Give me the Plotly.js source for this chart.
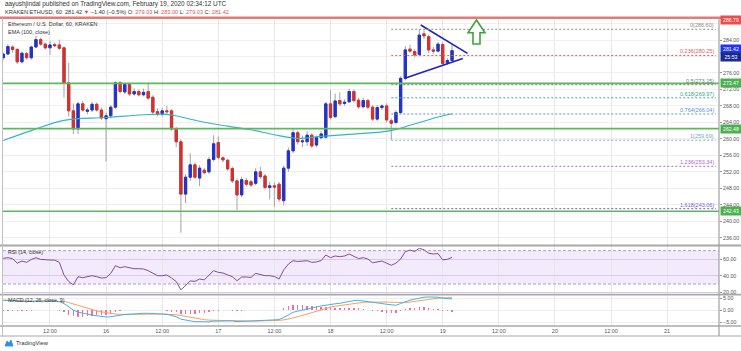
<!DOCTYPE html>
<html><head><meta charset="utf-8">
<script src="https://cdn.plot.ly/plotly-3.0.1.min.js"></script>
<style>html,body{margin:0;padding:0;background:#fff;}#chart{width:741px;height:351px;}</style>
</head><body><div id="chart"></div>
<script>
// ---------- DATA (hourly candles, KRAKEN:ETHUSD, from 2020-02-15 02:00 UTC) ----------
const opens  = [279.7,280.6,282.3,281.7,278.7,280.7,279.7,282.3,284.1,283.0,
                282.1,282.9,282.8,282.1,273.6,266.8,262.4,268.5,266.7,267.0,
                268.4,267.0,264.9,265.6,267.7,273.6,271.4,273.2,270.9,271.5,
                270.7,271.5,270.1,266.6,266.0,266.8,266.8,262.4,259.3,246.6,
                250.7,253.7,250.5,252.4,252.0,255.0,259.1,255.4,254.8,252.8,
                249.8,246.4,249.9,249.6,249.2,252.0,251.0,248.2,248.6,249.0,
                245.0,252.9,257.1,261.5,259.3,259.3,260.9,258.5,260.3,260.4,
                268.5,265.4,269.3,268.6,269.0,271.5,269.4,267.8,269.3,267.7,
                264.8,267.6,268.0,264.4,264.0,266.4,274.7,281.8,281.2,280.5,
                285.5,284.8,281.6,281.3,282.9,278.5,279.03];
const highs  = [280.9,283.0,282.7,282.1,281.2,281.1,282.6,285.0,284.6,283.4,
                283.8,283.4,284.1,282.4,278.5,268.6,269.0,269.2,267.6,268.9,
                268.8,267.6,266.4,268.2,274.0,274.0,273.6,273.6,272.3,272.0,
                272.2,273.6,270.6,267.4,267.5,268.0,267.2,262.9,259.9,251.4,
                256.5,254.3,253.6,253.0,255.6,260.9,260.6,255.8,255.2,253.3,
                250.4,250.8,250.5,250.1,252.9,253.2,251.5,249.6,249.4,249.5,
                253.5,257.9,262.6,262.1,260.8,261.8,261.4,260.8,261.9,269.0,
                271.9,271.0,271.3,269.6,272.2,272.0,270.0,270.0,269.7,268.2,
                268.2,268.4,268.6,265.0,267.0,275.2,282.5,282.9,281.8,286.6,
                286.4,285.3,282.3,283.5,283.4,279.6,283.00];
const lows   = [279.2,280.3,280.9,278.2,278.3,279.2,279.2,282.0,282.6,281.7,
                280.4,282.3,281.6,270.0,265.4,261.2,261.2,266.6,266.0,266.5,
                266.6,264.6,254.5,265.0,267.3,271.0,270.8,270.4,270.5,270.3,
                270.3,269.5,266.0,265.5,265.4,266.1,262.0,258.0,237.2,244.4,
                249.8,250.3,248.5,251.4,251.5,254.5,255.0,254.3,252.3,249.3,
                242.7,245.8,248.5,248.3,248.7,250.3,247.7,245.3,243.5,244.7,
                243.9,252.0,256.5,258.6,258.0,258.3,257.8,258.0,259.8,260.1,
                264.8,265.0,268.0,268.1,268.8,268.8,267.3,267.4,267.2,264.3,
                264.4,267.0,264.0,259.7,263.5,266.0,274.2,280.9,279.8,280.0,
                284.2,280.8,280.7,281.0,277.8,278.0,279.03];
const closes = [280.6,282.4,281.7,278.7,280.8,279.7,282.3,284.1,283.0,282.1,
                282.8,282.6,282.0,273.6,266.8,262.4,268.5,267.0,267.0,268.4,
                267.0,265.1,265.6,267.7,273.6,271.5,273.2,270.9,271.5,270.7,
                271.3,269.9,266.5,266.0,266.8,266.6,262.4,259.3,246.6,250.7,
                253.7,250.7,252.9,251.8,255.0,258.8,255.5,254.9,252.7,249.8,
                246.4,250.1,249.0,248.8,252.0,250.8,248.2,248.6,248.3,245.4,
                252.9,257.1,261.5,259.3,259.5,260.9,258.3,260.3,261.2,268.5,
                265.2,269.2,268.5,268.9,271.5,269.3,267.8,269.3,267.7,264.8,
                267.6,268.0,264.6,263.8,266.4,274.7,281.6,281.3,280.4,285.2,
                285.0,281.6,281.3,283.0,278.3,279.0,281.42];

// EMA(100, close) read at selected hours (hours after 2020-02-15 00:00)
const emaHours  = [2, 8, 15, 24, 33, 36, 38, 44, 50, 55, 60, 65, 70, 76, 83, 86, 89, 92, 95, 98];
const emaValues = [259.6, 262.0, 264.5, 265.2, 265.9, 266.0, 265.8, 264.3, 263.1, 262.2,
                   261.0, 260.1, 260.6, 261.1, 261.7, 262.3, 263.3, 264.3, 265.3, 266.1];

const rsi = [60.8,61.6,60.4,55.0,57.6,56.0,59.5,61.6,59.5,58.8,
             58.8,58.6,56.0,40.8,33.0,29.0,38.8,37.6,38.4,40.0,
             38.8,37.2,37.6,42.8,52.0,49.6,50.8,49.2,48.4,48.4,
             48.0,46.0,42.8,40.0,40.0,40.8,37.2,33.0,23.0,28.9,
             33.7,33.2,36.0,35.0,40.0,46.0,44.0,43.2,41.0,38.8,
             34.0,38.4,38.4,38.0,42.8,41.6,40.0,40.0,39.0,36.0,
             47.0,54.0,58.0,57.0,57.6,58.0,56.0,56.5,58.0,64.8,
             61.6,63.6,62.8,63.6,66.0,63.0,60.5,61.6,60.0,55.5,
             57.0,57.6,55.0,52.5,55.0,60.0,68.8,70.8,69.0,72.8,
             71.0,67.0,66.0,66.5,59.0,59.6,62.0];

const macd = [4.1,4.1,4.0,3.8,3.7,3.6,3.6,3.8,3.9,3.9,
              3.9,3.8,3.6,2.8,1.5,0.1,-0.7,-1.2,-1.6,-1.9,
              -2.2,-2.5,-2.7,-2.6,-2.2,-2.0,-1.7,-1.6,-1.4,-1.3,
              -1.2,-1.2,-1.4,-1.5,-1.5,-1.6,-2.1,-2.6,-3.6,-4.1,
              -4.3,-4.6,-4.7,-4.8,-4.7,-4.4,-4.3,-4.2,-4.2,-4.3,
              -4.6,-4.5,-4.4,-4.4,-4.2,-4.1,-4.1,-4.1,-4.0,-3.8,
              -2.9,-1.8,-0.8,-0.3,0.2,0.6,1.0,1.4,1.8,2.2,
              2.5,2.7,2.9,3.3,3.6,4.0,4.1,3.9,3.7,3.4,
              3.1,2.8,2.5,2.2,2.1,2.8,3.6,4.2,4.6,5.1,
              5.4,5.5,5.5,5.4,5.0,4.8,4.7];
const signal = [4.2,4.2,4.1,4.0,3.9,3.9,3.8,3.8,3.8,3.8,
                3.8,3.8,3.8,3.6,3.2,2.6,2.0,1.4,0.8,0.3,
                -0.2,-0.6,-1.0,-1.3,-1.5,-1.6,-1.7,-1.7,-1.6,-1.6,
                -1.5,-1.5,-1.5,-1.5,-1.5,-1.5,-1.6,-1.8,-2.1,-2.5,
                -2.9,-3.2,-3.5,-3.8,-4.0,-4.1,-4.2,-4.2,-4.2,-4.2,
                -4.3,-4.4,-4.4,-4.4,-4.4,-4.3,-4.3,-4.2,-4.2,-4.1,
                -3.9,-3.6,-3.1,-2.6,-2.0,-1.4,-0.9,-0.3,0.3,0.9,
                1.3,1.7,2.0,2.4,2.7,3.0,3.2,3.3,3.4,3.5,
                3.5,3.4,3.4,3.3,3.2,3.1,3.2,3.4,3.6,3.9,
                4.2,4.5,4.8,5.0,5.1,5.2,5.2];
const histogram = [-0.1,-0.1,-0.1,-0.2,-0.2,-0.3,-0.2,0.0,0.1,0.1,
                   0.1,0.0,-0.2,-0.8,-1.7,-2.5,-2.7,-2.6,-2.4,-2.2,
                   -2.0,-1.9,-1.7,-1.3,-0.7,-0.4,0.0,0.1,0.2,0.3,
                   0.3,0.3,0.1,0.0,0.0,-0.1,-0.5,-0.8,-1.5,-1.6,
                   -1.4,-1.4,-1.2,-1.0,-0.7,-0.3,-0.1,0.0,0.0,-0.1,
                   -0.3,-0.1,0.0,0.0,0.2,0.2,0.2,0.1,0.2,0.3,
                   1.0,1.8,2.3,2.3,2.2,2.0,1.9,1.7,1.5,1.3,
                   1.2,1.0,0.9,0.9,0.9,1.0,0.9,0.6,0.3,-0.1,
                   -0.4,-0.6,-0.9,-1.1,-1.1,-0.3,0.4,0.8,1.0,1.2,
                   1.2,1.0,0.7,0.4,-0.1,-0.4,-0.5];

// Fibonacci levels
const fibLabels = ["0(286.60)","0.236(280.25)","0.5(273.15)","0.618(269.97)","0.764(266.04)","1(259.69)","1.236(253.34)","1.618(243.06)"];
const fibPrices = [286.60, 280.25, 273.15, 269.97, 266.04, 259.69, 253.34, 243.06];
const fibStart = "2020-02-18 13:00";
const fibEnd   = "2020-02-21 10:28";

// Horizontal support/resistance lines
const hLevels = [273.47, 262.48, 242.43];
const topLevel = 286.79;
const lastPrice = 281.42;
const countdown = "25:53";

// Triangle trendlines
const triUpperX = ["2020-02-18 19:18", "2020-02-19 05:18"];
const triUpperY = [287.64, 280.77];
const triLowerX = ["2020-02-18 15:54", "2020-02-19 04:18"];
const triLowerY = [274.7, 279.5];

// Axis ticks (280 is hidden behind the price badges in the reference)
const xTickVals = ["2020-02-15 12:00","2020-02-16","2020-02-16 12:00","2020-02-17","2020-02-17 12:00","2020-02-18",
                   "2020-02-18 12:00","2020-02-19","2020-02-19 12:00","2020-02-20","2020-02-20 12:00","2020-02-21"];
const xTickText = ["12:00","16","12:00","17","12:00","18","12:00","19","12:00","20","12:00","21"];
const priceTicks = [236,240,244,248,252,256,260,264,268,272,276,284];
const hiddenGrid = [280, 288];
const rsiTicks = [20,40,60];
const macdTicks = [-5,0,5];

// ---------- helpers ----------
function hourStr(h){
  const d = new Date(Date.UTC(2020,1,15,0,0));
  d.setUTCHours(h);
  return d.toISOString().slice(0,16).replace('T',' ');
}
const firstHour = 2;
const times = opens.map((_, i) => hourStr(firstHour + i));
const emaTimes = emaHours.map(hourStr);
const bodyHi = opens.map((o,i) => Math.max(o, closes[i]));
const bodyLo = opens.map((o,i) => Math.min(o, closes[i]));

// layout geometry
const W=741, H=351, ML=3, MR=22, MT=19, MB=25;
const PW = W-ML-MR, PH = H-MT-MB;
const px = p => (p-ML)/PW;
const py = p => 1-(p-MT)/PH;

const UP = '#2231c8', DOWN = '#d3302f', WICK = '#a3a3a3';
const FONT = 'Liberation Sans, Arial, sans-serif';

const traces = [
  {type:'candlestick', x:times, open:opens, high:highs, low:lows, close:closes,
   increasing:{line:{color:WICK,width:1}, fillcolor:'rgba(0,0,0,0)'},
   decreasing:{line:{color:WICK,width:1}, fillcolor:'rgba(0,0,0,0)'},
   hoverinfo:'skip', xaxis:'x', yaxis:'y'},
  {type:'candlestick', x:times, open:opens, high:bodyHi, low:bodyLo, close:closes,
   increasing:{line:{color:UP,width:1}, fillcolor:UP},
   decreasing:{line:{color:DOWN,width:1}, fillcolor:DOWN},
   hoverinfo:'skip', xaxis:'x', yaxis:'y'},
  {type:'scatter', mode:'lines', x:emaTimes, y:emaValues, line:{color:'#35b3c8', width:1.1, shape:'spline'},
   hoverinfo:'skip', xaxis:'x', yaxis:'y'},
  {type:'scatter', mode:'lines', x:triUpperX, y:triUpperY, line:{color:'#1e22b8', width:1.6}, hoverinfo:'skip', xaxis:'x', yaxis:'y'},
  {type:'scatter', mode:'lines', x:triLowerX, y:triLowerY, line:{color:'#1e22b8', width:1.6}, hoverinfo:'skip', xaxis:'x', yaxis:'y'},
  {type:'scatter', mode:'lines', x:times, y:rsi, line:{color:'#7d4f9c', width:1}, hoverinfo:'skip', xaxis:'x', yaxis:'y2'},
  {type:'bar', x:times, y:histogram, width:1100000, marker:{color:'#ee6fa5'}, hoverinfo:'skip', xaxis:'x', yaxis:'y3'},
  {type:'scatter', mode:'lines', x:times, y:signal, line:{color:'#f5a15c', width:1}, hoverinfo:'skip', xaxis:'x', yaxis:'y3'},
  {type:'scatter', mode:'lines', x:times, y:macd, line:{color:'#4aaee6', width:1}, hoverinfo:'skip', xaxis:'x', yaxis:'y3'}
];

const shapes = [];
const annotations = [];
// grid lines for hidden price labels
hiddenGrid.forEach(v => shapes.push({type:'line', xref:'x domain', yref:'y', x0:0, x1:1, y0:v, y1:v, line:{color:'#efefef', width:1}, layer:'below'}));
// RSI band
shapes.push({type:'rect', xref:'x domain', yref:'y2', x0:0, x1:1, y0:30, y1:70, fillcolor:'rgba(156,90,220,0.12)', line:{width:0}, layer:'below'});
[70,30].forEach(v => shapes.push({type:'line', xref:'x domain', yref:'y2', x0:0, x1:1, y0:v, y1:v, line:{color:'rgba(150,110,200,0.7)', width:1, dash:'3px,2px'}}));
// fib lines
const fibColors = ['#8a8a8a','#e06060','#777777','#38a88e','#5a8fd6','#7fa6c6','#b06bd0','#7a5cc8'];
fibPrices.forEach((p,i) => {
  shapes.push({type:'line', xref:'x', yref:'y', x0:fibStart, x1:fibEnd, y0:p, y1:p, line:{color:fibColors[i], width:1, dash:'2px,2px'}});
  annotations.push({xref:'x', yref:'y', x:fibEnd, y:p, xanchor:'right', yanchor:'bottom', yshift:-1, text:fibLabels[i], showarrow:false,
    font:{family:FONT, size:5.5, color:fibColors[i]}});
});
// green horizontal lines
hLevels.forEach(v => shapes.push({type:'line', xref:'paper', yref:'y', x0:0, x1:1, y0:v, y1:v, line:{color:'#5cb85c', width:1.6}}));
// red top line
shapes.push({type:'line', xref:'paper', yref:'paper', x0:px(0), x1:px(741), y0:py(17.8), y1:py(17.8), line:{color:'#e47a7a', width:2.4}});
// pane separators and borders
shapes.push({type:'line', xref:'paper', yref:'paper', x0:px(0), x1:px(741), y0:py(245.5), y1:py(245.5), line:{color:'#a8a8a8', width:1.8}});
shapes.push({type:'line', xref:'paper', yref:'paper', x0:px(0), x1:px(741), y0:py(294.7), y1:py(294.7), line:{color:'#a8a8a8', width:1.8}});
shapes.push({type:'line', xref:'paper', yref:'paper', x0:px(0), x1:px(741), y0:py(326), y1:py(326), line:{color:'#a8a8a8', width:1.5}});
shapes.push({type:'line', xref:'paper', yref:'paper', x0:px(0), x1:px(741), y0:py(336), y1:py(336), line:{color:'#a8a8a8', width:1.2}});
shapes.push({type:'line', xref:'paper', yref:'paper', x0:px(719), x1:px(719), y0:py(336), y1:py(18), line:{color:'#a0a0a0', width:1.2}});
shapes.push({type:'line', xref:'paper', yref:'paper', x0:px(2.5), x1:px(2.5), y0:py(336), y1:py(18), line:{color:'#c0c0c0', width:1}});
// green up arrow (outline)
const arrowPts = [[476.5,20],[485,32.7],[480,32.7],[480,44],[473,44],[473,32.7],[468,32.7]];
shapes.push({type:'path', xref:'paper', yref:'paper',
  path:'M'+arrowPts.map(p=>px(p[0]).toFixed(5)+','+py(p[1]).toFixed(5)).join(' L')+' Z',
  fillcolor:'#ffffff', line:{color:'#3aa53a', width:1.6}});
// tradingview logo mark
shapes.push({type:'path', xref:'paper', yref:'paper',
  path:'M'+[[5,346],[7,341],[9,343],[11,340],[13,346]].map(p=>px(p[0]).toFixed(5)+','+py(p[1]).toFixed(5)).join(' L')+' Z',
  fillcolor:'#2f8fe0', line:{color:'#2f8fe0', width:0.8}});

function txt(x, y, text, size, color, extra){
  annotations.push(Object.assign({xref:'paper', yref:'paper', x:px(x), y:py(y), xanchor:'left', yanchor:'middle',
    text:text, showarrow:false, font:{family:FONT, size:size, color:color||'#333'}}, extra||{}));
}
txt(3, 4.5, 'aayushjindal published on TradingView.com, February 19, 2020 02:34:12 UTC', 6.4, '#333');
txt(3, 12, 'KRAKEN:ETHUSD, 60&nbsp; 281.42 <span style="color:#e03b3b">▼</span> −1.40 (−0.5%) O: <span style="color:#e05555">279.03</span> H: <span style="color:#e05555">283.00</span> L: <span style="color:#e05555">279.03</span> C: <span style="color:#e05555">281.42</span>', 5.6, '#333');
txt(6, 23.8, 'Ethereum / U.S. Dollar, 60, KRAKEN', 5.5, '#333');
txt(6, 31.5, 'EMA (100, close)', 5.5, '#333');
txt(6, 251.6, 'RSI (14, close)', 5.3, '#333');
txt(6, 299.5, 'MACD (12, 26, close, 9)', 5.3, '#333');
txt(14, 343, 'TradingView', 5.8, '#333');

function badge(yref, y, text, bg, yshift){
  annotations.push({xref:'paper', yref:yref, x:1, y:y, xanchor:'left', yanchor:'middle', xshift:1, yshift:yshift||0,
    text:text, showarrow:false, bgcolor:bg, borderpad:0.5, width:19, height:6.5,
    font:{family:FONT, size:5.2, color:'#ffffff'}});
}
badge('paper', py(20), topLevel.toFixed(2), '#ef4b4b');
badge('y', lastPrice, lastPrice.toFixed(2), '#2233ee', 1.5);
badge('y', lastPrice, countdown, '#1b2a8f', -6.5);
hLevels.forEach(v => badge('y', v, v.toFixed(2), '#4caf50'));

const layout = {
  width:W, height:H, margin:{l:ML, r:MR, t:MT, b:MB},
  paper_bgcolor:'#ffffff', plot_bgcolor:'#ffffff',
  showlegend:false, hovermode:false, dragmode:false, bargap:0,
  font:{family:FONT, size:5.5, color:'#444'},
  xaxis:{type:'date', range:['2020-02-15 01:57','2020-02-21 11:06'], anchor:'y3',
    rangeslider:{visible:false}, tickvals:xTickVals, ticktext:xTickText, ticks:'',
    showgrid:true, gridcolor:'#e7e7e7', gridwidth:1, zeroline:false, showline:false,
    tickfont:{family:FONT, size:5.5, color:'#555'}, fixedrange:true},
  yaxis:{domain:[py(245), 1], range:[234.24, 289.1], side:'right', anchor:'x',
    tickvals:priceTicks, tickformat:'.2f', ticks:'outside', ticklen:2, tickcolor:'#999',
    showgrid:true, gridcolor:'#efefef', zeroline:false, showline:false,
    tickfont:{family:FONT, size:5.3, color:'#555'}, fixedrange:true},
  yaxis2:{domain:[py(294.3), py(246)], range:[17.7, 75.6], side:'right', anchor:'x',
    tickvals:rsiTicks, tickformat:'.2f', ticks:'outside', ticklen:2, tickcolor:'#999',
    showgrid:true, gridcolor:'#d9c9ec', zeroline:false, showline:false,
    tickfont:{family:FONT, size:5.3, color:'#555'}, fixedrange:true},
  yaxis3:{domain:[0, py(295)], range:[-6.4, 6.3], side:'right', anchor:'x',
    tickvals:macdTicks, tickformat:'.2f', ticks:'outside', ticklen:2, tickcolor:'#999',
    showgrid:true, gridcolor:'#eeeeee', zeroline:false, showline:false,
    tickfont:{family:FONT, size:5.3, color:'#555'}, fixedrange:true},
  shapes:shapes, annotations:annotations
};

Plotly.newPlot('chart', traces, layout, {displayModeBar:false, staticPlot:true});
</script>
</body></html>
